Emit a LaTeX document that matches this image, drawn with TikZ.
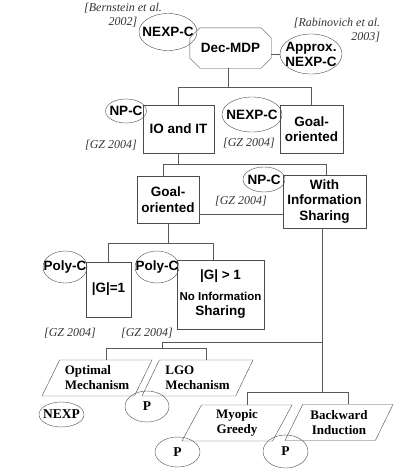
\documentclass[tikz,border=0pt]{standalone}
\usepackage{fontspec}
\setmainfont{Liberation Serif}
\setsansfont{Liberation Sans}
\usetikzlibrary{positioning, shapes.geometric}
\tikzset{
    prob/.style={rectangle, draw=black!70, thin, align=center, inner sep=1pt, font=\sffamily\bfseries\fontsize{13.5}{15.5}\selectfont},
    decbox/.style={rectangle, inner sep=0pt, minimum width=81pt, minimum height=40pt, font=\sffamily\bfseries\fontsize{13.5}{15.5}\selectfont,
        append after command={\pgfextra{\draw[black!70, thin]
            ([xshift=10pt]\tikzlastnode.north west) -- ([xshift=-10pt]\tikzlastnode.north east)
            -- ([yshift=-10pt]\tikzlastnode.north east) -- ([yshift=10pt]\tikzlastnode.south east)
            -- ([xshift=-10pt]\tikzlastnode.south east) -- ([xshift=10pt]\tikzlastnode.south west)
            -- ([yshift=10pt]\tikzlastnode.south west) -- ([yshift=-10pt]\tikzlastnode.north west) -- cycle;}}},
    cls/.style={ellipse, draw=black!70, thin, inner xsep=-10pt, inner ysep=-3pt, align=center, font=\sffamily\bfseries\fontsize{13.5}{15}\selectfont},
    algo/.style={trapezium, trapezium left angle=56, trapezium right angle=124, trapezium stretches body, draw=black!70, thin, inner sep=1pt, align=center, minimum height=36pt, font=\rmfamily\bfseries\fontsize{13}{15}\selectfont},
    cplx/.style={ellipse, draw=black!70, thin, inner xsep=-10pt, inner ysep=-3pt, font=\rmfamily\bfseries\fontsize{13.5}{15}\selectfont},
    cite/.style={font=\itshape\fontsize{12}{14}\selectfont, text=black!80, align=center, inner sep=0pt},
    link/.style={draw=black!65, thin}
}

\begin{document}
\begin{tikzpicture}[x=1pt, y=-1pt]
    \useasboundingbox (0,0) rectangle (401,471);

    % Top level
    \node[decbox] (dec) at (230.5,48) {Dec-MDP\hspace{10pt}};
    \node[cls, minimum width=58pt, minimum height=37pt] (nexpA) at (168,32) {NEXP-C};
    \node[cite] (bern) at (123,15) {[Bernstein et al.\\2002]};
    \node[cls, minimum width=62pt, minimum height=40pt] (approx) at (311,54) {Approx.\\NEXP-C};
    \node[cite, align=right] (rabi) at (337,30) {[Rabinovich et al.\\2003]\hspace{6pt}};

    % Second level
    \node[prob, minimum width=71pt, minimum height=48pt] (io) at (178.5,129) {IO and IT};
    \node[cls, minimum width=41pt, minimum height=24pt] (npA) at (126,111) {NP-C};
    \node[cite] (gzA) at (111,145) {[GZ 2004]};
    \node[prob, minimum width=63pt, minimum height=48pt] (goalA) at (311.5,129) {Goal-\\oriented};
    \node[cls, minimum width=60pt, minimum height=35pt] (nexpB) at (252,114.5) {NEXP-C};
    \node[cite] (gzB) at (249,143) {[GZ 2004]};

    % Third level
    \node[prob, minimum width=62pt, minimum height=47pt] (goalB) at (168,199.5) {Goal-\\oriented};
    \node[prob, minimum width=83pt, minimum height=53pt] (info) at (324.5,201.5) {With\\Information\\Sharing};
    \node[cls, minimum width=42pt, minimum height=25pt] (npB) at (264,179.5) {NP-C};
    \node[cite] (gzC) at (241,201) {[GZ 2004]};

    % Fourth level
    \node[prob, minimum width=45pt, minimum height=55pt] (gone) at (108.5,289.5) {|G|=1};
    \node[cls, minimum width=44pt, minimum height=32pt] (polyA) at (65,267) {Poly-C};
    \node[cite] (gzD) at (70,333) {[GZ 2004]};
    \node[prob, minimum width=87pt, minimum height=69pt] (gmany) at (220.5,294.5) {|G| > 1\\[5pt]\fontsize{11.5}{15}\selectfont No Information\\Sharing};
    \node[cls, minimum width=44pt, minimum height=32pt] (polyB) at (157,267) {Poly-C};
    \node[cite] (gzE) at (147,333) {[GZ 2004]};

    % Mechanisms
    \node[algo, minimum width=110pt, align=left] (opt) at (97,378) {Optimal\\Mechanism};
    \node[cplx, minimum width=45pt, minimum height=25pt] (nexpC) at (61.5,414.5) {NEXP};
    \node[algo, minimum width=111pt, align=left] (lgo) at (197.5,378) {LGO\\Mechanism};
    \node[cplx, minimum width=44pt, minimum height=31pt] (pA) at (147,406.5) {P};
    \node[algo, minimum width=110pt] (myo) at (237,423) {Myopic\\Greedy};
    \node[cplx, minimum width=45pt, minimum height=30pt] (pB) at (177.5,452) {P};
    \node[algo, minimum width=108pt] (back) at (339,422.5) {Backward\\Induction};
    \node[cplx, minimum width=45pt, minimum height=33pt] (pC) at (285.5,451.5) {P};

    % Connectors
    \coordinate (busA) at (228,87);
    \coordinate (busB) at (178.5,164);
    \coordinate (busC) at (168,243);
    \coordinate (busD) at (322,342);
    \coordinate (busE) at (322,392);
    \coordinate (busF) at (162,342);
    \coordinate (busG) at (162,348);

    \draw[link] ([yshift=-6pt]dec.east) -- (approx.west);
    \draw[link] ([xshift=-2.5pt]dec.south) -- (busA) -| (io);
    \draw[link] (busA) -| (goalA);
    \draw[link] (io) -- (busB) -| ([xshift=-5pt]goalB.north);
    \draw[link] (busB) -| ([xshift=1.5pt]info.north);
    \draw[link] ([yshift=-15pt]goalB.east) -- ([yshift=-15pt]goalB.east -| info.west);
    \draw[link] (goalB) -- (busC) -| (gone);
    \draw[link] (busC) -| ([xshift=-7pt]gmany.north);
    \draw[link] ([xshift=-2.5pt]info.south) -- (busE);
    \draw[link] (busD) -- (busF) -- (busG);
    \draw[link] (busG) -| (opt.top side);
    \draw[link] (busG) -| (lgo.top side);
    \draw[link] (busE) -| (myo.top side);
    \draw[link] (busE) -| (back.top side);
\end{tikzpicture}
\end{document}
